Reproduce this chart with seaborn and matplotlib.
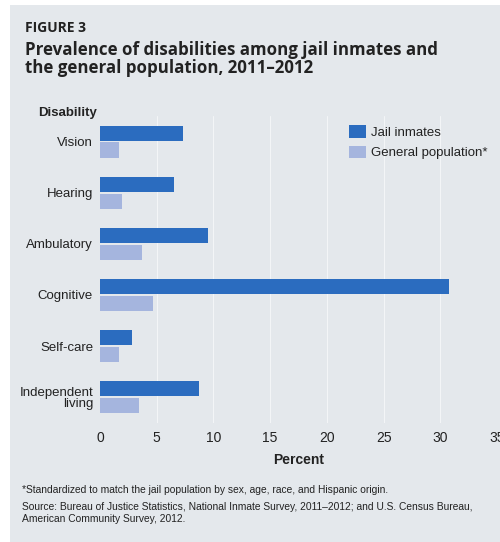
import matplotlib
matplotlib.use("Agg")
import matplotlib.pyplot as plt
import seaborn as sns
import pandas as pd
from matplotlib.patches import Rectangle
from matplotlib import font_manager

categories = ["Vision", "Hearing", "Ambulatory", "Cognitive", "Self-care", "Independent\nliving"]
jail_inmates = [7.3, 6.5, 9.5, 30.8, 2.8, 8.7]
general_population = [1.7, 1.9, 3.7, 4.7, 1.7, 3.4]
series_names = ["Jail inmates", "General population*"]
x_ticks = [0, 5, 10, 15, 20, 25, 30, 35]

df = pd.DataFrame({
    "Disability": categories * 2,
    "Percent": jail_inmates + general_population,
    "Group": [series_names[0]] * len(categories) + [series_names[1]] * len(categories),
})

installed = {f.name for f in font_manager.fontManager.ttflist}
has_narrow = "Liberation Sans Narrow" in installed

sns.set_theme(style="white")
narrow = ["Liberation Sans Narrow", "DejaVu Sans"] if has_narrow else ["Liberation Sans", "DejaVu Sans"]
bold_font = ["Open Sans", "DejaVu Sans"]
plt.rcParams["font.family"] = narrow

bg = "#e4e8ec"
dark = "#2b6cbf"
light = "#a5b5de"
txt = "#222222"

fig = plt.figure(figsize=(5.0, 5.42), dpi=100)
fig.patch.set_facecolor("white")
fig.patches.append(Rectangle((10 / 500, 0), 1, 537 / 542, transform=fig.transFigure,
                             facecolor=bg, edgecolor="none", zorder=-5))

ax = fig.add_axes([0.2, 0.22, 0.794, 0.566])
ax.set_facecolor(bg)
ax.patch.set_alpha(0)

for t in x_ticks[1:]:
    ax.axvline(t, color="#f3f5f7", lw=0.8, zorder=0)

sns.barplot(data=df, y="Disability", x="Percent", hue="Group", orient="h",
            palette=[dark, light], width=0.66, gap=0.1, ax=ax, zorder=2,
            saturation=1, linewidth=0, edgecolor="none")

ax.set_xlim(0, 35)
ax.set_ylim(5.5, -0.5)
ax.set_xticks(x_ticks)
ax.set_xticklabels([str(t) for t in x_ticks], fontsize=10, color=txt)
ax.set_yticklabels(categories, fontsize=9.5, color=txt, linespacing=0.95)
ax.tick_params(axis="both", length=0, pad=5)
ax.tick_params(axis="x", pad=6)
ax.set_ylabel("")
ax.set_xlabel("Percent", fontsize=10, fontweight="bold", color=txt, labelpad=6)
for s in ax.spines.values():
    s.set_visible(False)

ax.text(-0.007, 1.01, "Disability", transform=ax.transAxes, ha="right", va="center",
        fontsize=9.5, fontweight="bold", color=txt)

leg = ax.legend(loc="upper right", bbox_to_anchor=(1.0, 1.0), frameon=False,
                fontsize=9.5, handlelength=1.3, handleheight=1.1, handletextpad=0.4,
                labelspacing=0.5, borderaxespad=0.3)
for t in leg.get_texts():
    t.set_color(txt)

fig.text(25 / 500, 1 - 28 / 542, "FIGURE 3", fontsize=10, fontweight="bold",
         color=txt, va="center", ha="left", family=bold_font)
fig.text(25 / 500, 1 - 59 / 542,
         "Prevalence of disabilities among jail inmates and\nthe general population, 2011\u20132012",
         fontsize=12.2, fontweight="bold", color=txt, va="center", ha="left",
         family=bold_font, linespacing=1.0)

fs_note = 7.2 if has_narrow else 7.4
fig.text(22 / 500, 1 - 490 / 542,
         "*Standardized to match the jail population by sex, age, race, and Hispanic origin.",
         fontsize=fs_note, color=txt, va="center", ha="left")
fig.text(22 / 500, 1 - 513 / 542,
         "Source: Bureau of Justice Statistics, National Inmate Survey, 2011\u20132012; and U.S. Census Bureau,\nAmerican Community Survey, 2012.",
         fontsize=fs_note, color=txt, va="center", ha="left", linespacing=1.15)

fig.savefig("out.png", dpi=100, facecolor=fig.get_facecolor())
